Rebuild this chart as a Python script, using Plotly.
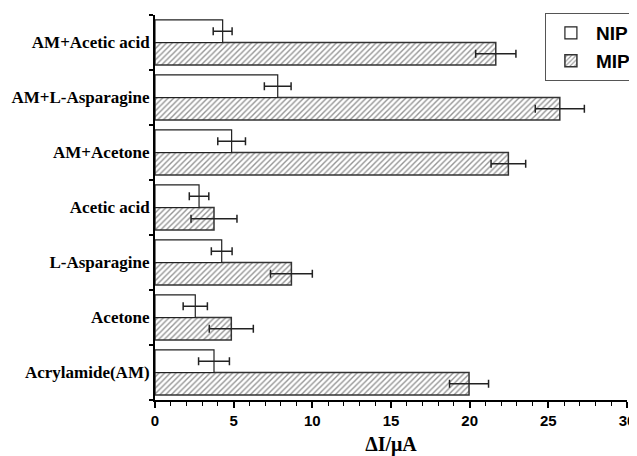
import plotly.graph_objects as go

categories = ["Acrylamide(AM)", "Acetone", "L-Asparagine", "Acetic acid",
              "AM+Acetone", "AM+L-Asparagine", "AM+Acetic acid"]
nip_values = [3.75, 2.56, 4.24, 2.8, 4.87, 7.8, 4.3]
nip_errors = [0.98, 0.77, 0.66, 0.62, 0.88, 0.85, 0.6]
mip_values = [19.96, 4.85, 8.67, 3.75, 22.46, 25.73, 21.66]
mip_errors = [1.24, 1.4, 1.33, 1.46, 1.1, 1.56, 1.28]
x_ticks = [0, 5, 10, 15, 20, 25, 30]

fig = go.Figure()
fig.add_trace(go.Bar(
    name="<b>MIP</b>", y=categories, x=mip_values, orientation="h",
    marker=dict(color="white", line=dict(color="#333333", width=1.5),
                pattern=dict(shape="/", fgcolor="#2a2a2a", bgcolor="white",
                             size=4, solidity=0.35)),
    error_x=dict(type="data", array=mip_errors, color="#222222",
                 thickness=1.5, width=4),
))
fig.add_trace(go.Bar(
    name="<b>NIP</b>", y=categories, x=nip_values, orientation="h",
    marker=dict(color="white", line=dict(color="#222222", width=1.2)),
    error_x=dict(type="data", array=nip_errors, color="#222222",
                 thickness=1.5, width=4),
))

fig.update_layout(
    width=629, height=448,
    margin=dict(l=147, r=10, t=7, b=56, autoexpand=False),
    barmode="group", bargap=0.18, bargroupgap=0,
    plot_bgcolor="white", paper_bgcolor="white",
    legend=dict(traceorder="reversed", x=1.021, xanchor="right", y=1.005, yanchor="top",
                bordercolor="#555555", borderwidth=1, bgcolor="white",
                font=dict(family="Liberation Sans", size=19, color="black"),
                itemwidth=40, tracegroupgap=0),
    xaxis=dict(range=[0, 30], tickvals=x_ticks, ticktext=[f"<b>{t}</b>" for t in x_ticks],
               ticks="outside", ticklen=6, automargin=False,
               tickwidth=1.5, tickcolor="black",
               showline=True, linecolor="black", linewidth=2,
               showgrid=False, zeroline=False,
               minor=dict(dtick=1, ticks="outside", ticklen=4, tickwidth=1.2, tickcolor="black"),
               tickfont=dict(family="Liberation Sans", size=15, color="black"),
               title=dict(text="<b>ΔI/μA</b>", standoff=10,
                          font=dict(family="Liberation Serif", size=20, color="black"))),
    yaxis=dict(type="category", categoryorder="array", categoryarray=categories,
               tickvals=categories, ticktext=[f"<b>{c}</b>" for c in categories],
               range=[-0.5, 6.5], tickson="boundaries", ticks="outside", ticklen=4,
               tickwidth=1.5, tickcolor="black", automargin=False,
               showline=True, linecolor="black", linewidth=2, showgrid=False,
               tickfont=dict(family="Liberation Serif", size=17, color="black")),
)

fig.write_html("out.html")
